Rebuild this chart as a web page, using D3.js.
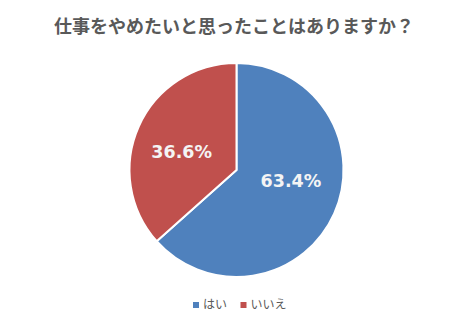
<!DOCTYPE html>
<html>
<head>
<meta charset="utf-8">
<script src="https://cdn.jsdelivr.net/npm/d3@7"></script>
<style>
  html, body { margin: 0; padding: 0; background: #ffffff; }
  svg { display: block; }
</style>
</head>
<body>
<svg id="chart" width="476" height="325"></svg>
<script>
// Survey answers and their shares (%)
const title = "仕事をやめたいと思ったことはありますか？";
const categories = ["はい", "いいえ"];
const values = [63.4, 36.6];
const colors = ["#4F81BD", "#C0504D"];

const W = 476, H = 325;
const cx = 236.5, cy = 170, radius = 107;

const svg = d3.select("#chart");

// Title
svg.append("text")
  .attr("x", 234)
  .attr("y", 33)
  .attr("text-anchor", "middle")
  .style("font-family", "'Noto Sans CJK JP', sans-serif")
  .style("font-weight", "700")
  .style("font-size", "18px")
  .style("fill", "#595959")
  .text(title);

// Pie, starting at 12 o'clock and running clockwise
const pie = d3.pie().sort(null).value(d => d)(values);
const arc = d3.arc().innerRadius(0).outerRadius(radius);
const labelArc = d3.arc().innerRadius(radius * 0.52).outerRadius(radius * 0.52);
// small best-fit style nudges for the value labels
const labelNudge = [[3.7, -12], [-4, 4.4]];

const g = svg.append("g").attr("transform", `translate(${cx},${cy})`);

g.selectAll("path.slice")
  .data(pie)
  .join("path")
  .attr("class", "slice")
  .attr("d", arc)
  .attr("fill", (d, i) => colors[i])
  .attr("stroke", "#ffffff")
  .attr("stroke-width", 2)
  .attr("stroke-linejoin", "round");

g.selectAll("text.val")
  .data(pie)
  .join("text")
  .attr("class", "val")
  .attr("transform", (d, i) => {
    const [x, y] = labelArc.centroid(d);
    return `translate(${x + labelNudge[i][0]},${y + labelNudge[i][1]})`;
  })
  .attr("text-anchor", "middle")
  .attr("dy", "0.36em")
  .style("font-family", "'DejaVu Sans', Verdana, sans-serif")
  .style("font-weight", "700")
  .style("font-size", "17.5px")
  .style("fill", "#f4f4f4")
  .text(d => d.data.toFixed(1) + "%");

// Legend
const legendX = [193, 240.5];
const leg = svg.append("g");
categories.forEach((c, i) => {
  leg.append("rect")
    .attr("x", legendX[i])
    .attr("y", 302)
    .attr("width", 6)
    .attr("height", 6)
    .attr("fill", colors[i]);
  leg.append("text")
    .attr("x", legendX[i] + 10)
    .attr("y", 309)
    .style("font-family", "'Noto Sans CJK JP', sans-serif")
    .style("font-size", "12px")
    .style("fill", "#595959")
    .text(c);
});
</script>
</body>
</html>
